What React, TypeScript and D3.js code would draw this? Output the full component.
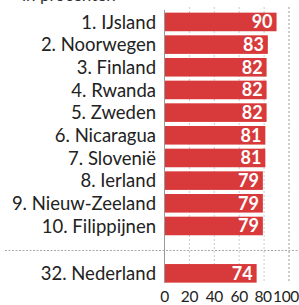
import { useEffect, useRef } from 'react';
import * as d3 from 'd3';

const countries = [
  '1. IJsland',
  '2. Noorwegen',
  '3. Finland',
  '4. Rwanda',
  '5. Zweden',
  '6. Nicaragua',
  '7. Slovenië',
  '8. Ierland',
  '9. Nieuw-Zeeland',
  '10. Filippijnen',
];
const scores = [90, 83, 82, 82, 82, 81, 81, 79, 79, 79];
const extraCountry = ['32. Nederland'];
const extraScore = [74];
const ticks = [0, 20, 40, 60, 80, 100];

export default function App() {
  const svgRef = useRef<SVGSVGElement>(null);

  useEffect(() => {
    if (!svgRef.current) return;
    const width = 299;
    const height = 305;
    const font = 'Lato, sans-serif';
    const red = '#d83a3b';

    d3.select(svgRef.current).selectAll('*').remove();
    const svg = d3.select(svgRef.current).attr('width', width).attr('height', height);

    const x = d3.scaleLinear().domain([0, 100]).range([164.5, 289]);

    const y = d3.scaleBand()
      .domain(countries)
      .range([10.6, 237.3])
      .paddingInner(0.18)
      .paddingOuter(0.09);

    const y2 = d3.scaleBand()
      .domain(extraCountry)
      .range([262, 284.7])
      .paddingInner(0.18)
      .paddingOuter(0.09);

    // subtitle, cut at the top
    svg.append('text')
      .attr('x', 22)
      .attr('y', 1)
      .style('font-family', font)
      .style('font-size', '17px')
      .style('fill', '#333')
      .text('in procenten');

    // gridlines
    svg.append('g')
      .selectAll('line')
      .data(ticks.filter(t => t > 0))
      .join('line')
      .attr('x1', d => x(d))
      .attr('x2', d => x(d))
      .attr('y1', 7)
      .attr('y2', 282)
      .attr('stroke', d => (d === 100 ? '#999' : '#ccc'))
      .attr('stroke-width', 1)
      .attr('stroke-dasharray', '2,2');

    // separator
    svg.append('line')
      .attr('x1', 5)
      .attr('x2', 299)
      .attr('y1', 250.5)
      .attr('y2', 250.5)
      .attr('stroke', '#aaa')
      .attr('stroke-dasharray', '2,1.5');

    const drawRows = (names: string[], vals: number[], sc: d3.ScaleBand<string>) => {
      const rows = names.map((n, i) => ({ n, v: vals[i] }));
      const g = svg.append('g');
      g.selectAll('rect')
        .data(rows)
        .join('rect')
        .attr('x', x(0))
        .attr('y', d => sc(d.n) || 0)
        .attr('width', d => x(d.v) - x(0))
        .attr('height', sc.bandwidth())
        .attr('fill', red);
      g.selectAll('text.val')
        .data(rows)
        .join('text')
        .attr('class', 'val')
        .attr('x', d => x(d.v) - 4)
        .attr('y', d => (sc(d.n) || 0) + sc.bandwidth() / 2)
        .attr('dy', '0.36em')
        .attr('text-anchor', 'end')
        .style('font-family', font)
        .style('font-weight', 'bold')
        .style('font-size', '18px')
        .style('fill', '#fff')
        .text(d => d.v);
      g.selectAll('text.lbl')
        .data(rows)
        .join('text')
        .attr('class', 'lbl')
        .attr('x', 156)
        .attr('y', d => (sc(d.n) || 0) + sc.bandwidth() / 2)
        .attr('dy', '0.36em')
        .attr('text-anchor', 'end')
        .style('font-family', font)
        .style('font-size', '18.5px')
        .style('fill', '#222')
        .text(d => d.n);
    };

    drawRows(countries, scores, y);
    drawRows(extraCountry, extraScore, y2);

    // axis line
    svg.append('line')
      .attr('x1', x(0))
      .attr('x2', x(0))
      .attr('y1', 10)
      .attr('y2', 283)
      .attr('stroke', '#999')
      .attr('stroke-width', 1);

    // tick labels
    svg.append('g')
      .selectAll('text')
      .data(ticks)
      .join('text')
      .attr('x', d => x(d) - (d === 100 ? 3 : d === 80 ? 1 : 0))
      .attr('y', 302)
      .attr('text-anchor', 'middle')
      .style('font-family', font)
      .style('font-size', '15.5px')
      .style('letter-spacing', '-0.4px')
      .style('fill', '#222')
      .text(d => d);
  }, []);

  return (
    <div style={{ position: 'absolute', left: 0, top: 0 }}>
      <svg ref={svgRef} style={{ display: 'block' }}></svg>
    </div>
  );
}
